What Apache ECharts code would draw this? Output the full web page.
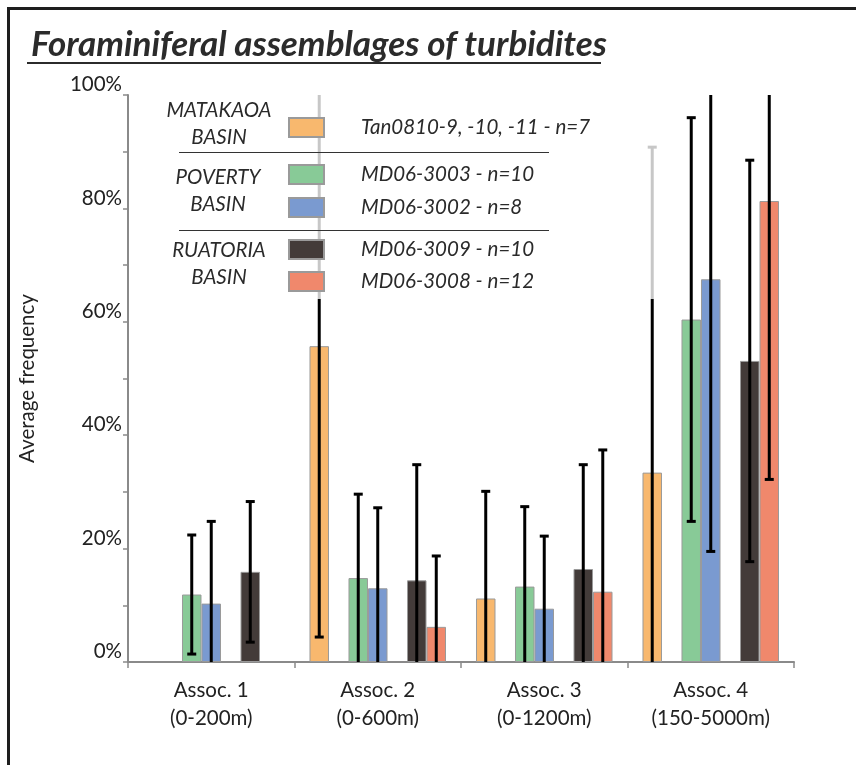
<!DOCTYPE html>
<html>
<head>
<meta charset="utf-8">
<script src="https://cdn.jsdelivr.net/npm/echarts@6/dist/echarts.min.js"></script>
<style>
html,body{margin:0;padding:0;background:#fff;}
#chart{width:856px;height:765px;}
</style>
</head>
<body>
<div id="chart"></div>
<script>
// ---- data ----
const categories = ['Assoc. 1\n(0-200m)', 'Assoc. 2\n(0-600m)', 'Assoc. 3\n(0-1200m)', 'Assoc. 4\n(150-5000m)'];
const yTicks = [0, 20, 40, 60, 80, 100];
const seriesNames = ['Tan0810-9, -10, -11 - n=7', 'MD06-3003 - n=10', 'MD06-3002 - n=8', 'MD06-3009 - n=10', 'MD06-3008 - n=12'];
const basinNames = ['MATAKAOA\nBASIN', 'POVERTY\nBASIN', 'RUATORIA\nBASIN'];
const orangeVals = [null, 55.7, 11.2, 33.4];
const orangeSD   = [null, 51.3, 18.9, 57.4];
const greenVals  = [11.9, 14.8, 13.3, 60.4];
const greenSD    = [10.5, 14.8, 14.1, 35.6];
const blueVals   = [10.3, 13.0, 9.4, 67.5];
const blueSD     = [14.5, 14.2, 12.8, 48.0];
const darkVals   = [15.9, 14.4, 16.4, 53.1];
const darkSD     = [12.4, 20.4, 18.4, 35.4];
const redVals    = [null, 6.2, 12.4, 81.3];
const redSD      = [null, 12.5, 25.0, 49.1];

// ---- styling ----
const colors = ['#F8B86E', '#88CA97', '#7A9AD0', '#433B39', '#F0886C'];
const FONT = 'Lato';
const FS = 20.5;
const slots = [0, 2, 3, 5, 6];   // positions among 7 bar slots (1 and 4 are gaps)
const NSLOT = 7;
const CATGAP = 0.18;

const valsList = [orangeVals, greenVals, blueVals, darkVals, redVals];
const sdList = [orangeSD, greenSD, blueSD, darkSD, redSD];

const chart = echarts.init(document.getElementById('chart'), null, {renderer: 'canvas'});

const barSeries = [];
const order = [0, 'g1', 1, 2, 'g2', 3, 4];
order.forEach(k => {
  if (typeof k === 'string') {
    barSeries.push({type: 'bar', name: k, data: categories.map(() => null), barGap: '0%', barCategoryGap: (CATGAP*100)+'%', silent: true});
  } else {
    barSeries.push({
      type: 'bar', name: seriesNames[k], data: valsList[k],
      barGap: '0%', barCategoryGap: (CATGAP*100)+'%',
      itemStyle: {color: colors[k], borderColor: '#9a9a9a', borderWidth: 1},
      z: 2
    });
  }
});

const errSeries = valsList.map((vals, k) => ({
  type: 'custom',
  name: 'err' + k,
  z: 5,
  silent: true,
  data: vals.map((v, i) => [i, v, sdList[k][i]]),
  renderItem: function (params, api) {
    const v = api.value(1), sd = api.value(2);
    if (v == null || isNaN(v)) return null;
    const cat = api.value(0);
    const band = api.size([1, 0])[0];
    const bw = band * (1 - CATGAP) / NSLOT;
    const cx = api.coord([cat, 0])[0] + (slots[k] - (NSLOT - 1) / 2) * bw;
    const lo = Math.max(0, v - sd), hi = Math.min(100, v + sd);
    const yLo = api.coord([cat, lo])[1], yHi = api.coord([cat, hi])[1];
    const st = {stroke: '#000', lineWidth: 3};
    const ch = [{type: 'line', shape: {x1: cx, y1: yLo, x2: cx, y2: yHi}, style: st}];
    const cw = 4.5;
    if (v - sd > 0) ch.push({type: 'line', shape: {x1: cx - cw, y1: yLo, x2: cx + cw, y2: yLo}, style: st});
    if (v + sd < 100) ch.push({type: 'line', shape: {x1: cx - cw, y1: yHi, x2: cx + cw, y2: yHi}, style: st});
    return {type: 'group', children: ch};
  }
}));

const legendText = {fontFamily: FONT, fontStyle: 'italic', fontSize: FS, lineHeight: 19, color: '#2a2a2a', padding: [0, 0, 0, 32]};
const legendBase = {orient: 'vertical', left: 288, padding: 0, icon: 'rect', itemWidth: 35, itemHeight: 19, textStyle: legendText, z: 30, selectedMode: false};

const basinText = (txt, cx, cy) => ({
  type: 'text', z: 30, x: cx, y: cy,
  style: {text: txt, fontFamily: FONT, fontStyle: 'italic', fontSize: FS, fill: '#2a2a2a', align: 'center', verticalAlign: 'middle', lineHeight: 27}
});

const option = {
  animation: false,
  backgroundColor: '#fff',
  title: {
    text: 'Foraminiferal assemblages of turbidites',
    left: 26, top: 22,
    textStyle: {fontFamily: FONT, fontStyle: 'italic', fontWeight: 'bold', fontSize: 35, color: '#2b2b2b'}
  },
  grid: {left: 128, right: 62, top: 95, bottom: 103, containLabel: false},
  legend: [
    Object.assign({}, legendBase, {top: 117, data: [seriesNames[0]]}),
    Object.assign({}, legendBase, {top: 164, itemGap: 12, data: [seriesNames[1], seriesNames[2]]}),
    Object.assign({}, legendBase, {top: 239, itemGap: 11, data: [seriesNames[3], seriesNames[4]]})
  ],
  xAxis: {
    type: 'category', data: categories, boundaryGap: true,
    axisLine: {lineStyle: {color: '#8a8a8a', width: 2}},
    axisTick: {show: true, length: 6, lineStyle: {color: '#8a8a8a', width: 1.5}},
    axisLabel: {fontFamily: FONT, fontSize: FS, color: '#222', lineHeight: 28, margin: 14}
  },
  yAxis: {
    type: 'value', min: 0, max: 100, interval: 10,
    name: 'Average frequency', nameLocation: 'middle', nameGap: 90, nameRotate: 90,
    nameTextStyle: {fontFamily: FONT, fontSize: FS, color: '#222'},
    axisLine: {show: true, lineStyle: {color: '#8a8a8a', width: 2}},
    axisTick: {show: true, length: 5, lineStyle: {color: '#8a8a8a', width: 1.5}},
    splitLine: {show: false},
    axisLabel: {
      fontFamily: FONT, fontSize: FS, color: '#222', margin: 6, verticalAlign: 'bottom',
      formatter: v => yTicks.indexOf(v) >= 0 ? v + '%' : ''
    }
  },
  graphic: [
    {type: 'line', z: 40, shape: {x1: 8, y1: 8.5, x2: 856, y2: 8.5}, style: {stroke: '#1e1e1e', lineWidth: 3}},
    {type: 'line', z: 40, shape: {x1: 8.5, y1: 7, x2: 8.5, y2: 765}, style: {stroke: '#1e1e1e', lineWidth: 3}},
    {type: 'line', z: 40, shape: {x1: 27, y1: 63, x2: 601, y2: 63}, style: {stroke: '#2b2b2b', lineWidth: 2}},
    {type: 'rect', z: 20, shape: {x: 160, y: 93, width: 505, height: 206}, style: {fill: 'rgba(255,255,255,0.78)'}},
    {type: 'line', z: 30, shape: {x1: 179, y1: 152.5, x2: 549, y2: 152.5}, style: {stroke: '#333', lineWidth: 1}},
    {type: 'line', z: 30, shape: {x1: 179, y1: 230.5, x2: 549, y2: 230.5}, style: {stroke: '#333', lineWidth: 1}},
    basinText(basinNames[0], 219, 124),
    basinText(basinNames[1], 218, 191),
    basinText(basinNames[2], 219, 264)
  ],
  series: barSeries.concat(errSeries)
};
chart.setOption(option);
</script>
</body>
</html>
